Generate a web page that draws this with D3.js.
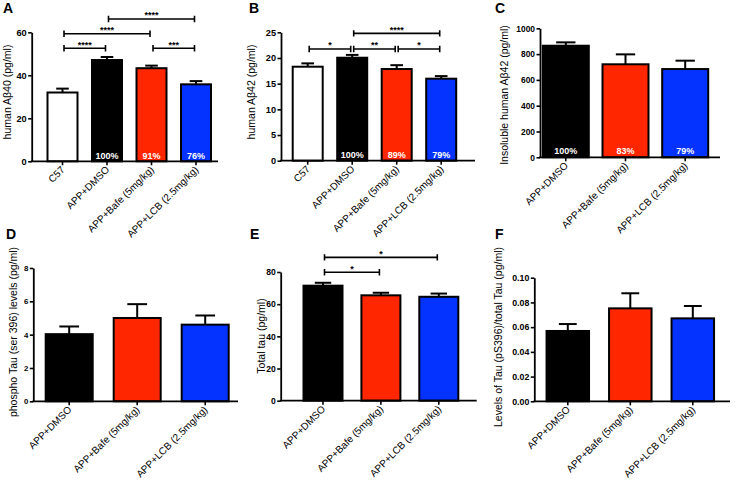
<!DOCTYPE html>
<html><head><meta charset="utf-8">
<script src="https://cdn.jsdelivr.net/npm/d3@7/dist/d3.min.js"></script>
<style>
body{margin:0;background:#fff;}
text{font-family:"Liberation Sans",Arial,sans-serif;}
</style></head>
<body><svg id="c" width="738" height="481"></svg>
<script>
// ---------- data ----------
const groups4 = ["C57", "APP+DMSO", "APP+Bafe (5mg/kg)", "APP+LCB (2.5mg/kg)"];
const groups3 = ["APP+DMSO", "APP+Bafe (5mg/kg)", "APP+LCB (2.5mg/kg)"];
const colors4 = ["#ffffff", "#000000", "#ff2600", "#0433ff"];
const colors3 = ["#000000", "#ff2600", "#0433ff"];

const meansA = [32.0, 47.1, 43.3, 35.8];
const semA   = [1.8, 1.4, 1.2, 1.5];
const pctA   = ["", "100%", "91%", "76%"];
const ticksA = [0, 20, 40, 60];
const sigA   = [
  {a: 0, b: 1, h: 52.6, s: "****"},
  {a: 0, b: 2, h: 59.3, s: "****"},
  {a: 1, b: 3, h: 66.2, s: "****"},
  {a: 2, b: 3, h: 52.6, s: "***"}
];

const meansB = [18.3, 20.05, 17.85, 15.97];
const semB   = [0.65, 0.55, 0.75, 0.5];
const pctB   = ["", "100%", "89%", "79%"];
const ticksB = [0, 5, 10, 15, 20, 25];
const sigB   = [
  {a: 0, b: 1, h: 21.75, s: "*"},
  {a: 1, b: 2, h: 21.75, s: "**"},
  {a: 2, b: 3, h: 21.75, s: "*"},
  {a: 1, b: 3, h: 24.8, s: "****"}
];

const meansC = [865, 721, 684];
const semC   = [26, 77, 65];
const pctC   = ["100%", "83%", "79%"];
const ticksC = [0, 200, 400, 600, 800, 1000];

const meansD = [4.03, 5.0, 4.6];
const semD   = [0.46, 0.83, 0.55];
const ticksD = [0, 2, 4, 6, 8];

const meansE = [71.5, 65.5, 64.6];
const semE   = [1.8, 1.6, 2.0];
const ticksE = [0, 20, 40, 60, 80];
const sigE   = [
  {a: 0, b: 1, h: 79.8, s: "*"},
  {a: 0, b: 2, h: 89.1, s: "*"}
];

const meansF = [0.0569, 0.0752, 0.0671];
const semF   = [0.0056, 0.0122, 0.0100];
const ticksF = [0, 0.02, 0.04, 0.06, 0.08, 0.10];

// ---------- layout ----------
const panels = [
  {letter:"A", lx:3, ly:12.5, cats:groups4, colors:colors4, means:meansA, sem:semA, pct:pctA, ticks:ticksA, fmt:d3.format("d"), sig:sigA,
   title:"human Aβ40 (pg/ml)", tx:11, ty:92, tf:9.2,
   x0:31.7, x1:218, yZero:161.3, yTop:32.3, c0:62.5, step:44.5, bw:30, pctY:158.5},
  {letter:"B", lx:249, ly:12.5, cats:groups4, colors:colors4, means:meansB, sem:semB, pct:pctB, ticks:ticksB, fmt:d3.format("d"), sig:sigB,
   title:"human Aβ42 (pg/ml)", tx:255, ty:92, tf:9.2,
   x0:281, x1:475, yZero:160.7, yTop:32.3, c0:307.7, step:44.5, bw:30, pctY:158},
  {letter:"C", lx:495, ly:13, cats:groups3, colors:colors3, means:meansC, sem:semC, pct:pctC, ticks:ticksC, fmt:d3.format("d"), sig:[],
   title:"Insoluble human Aβ42 (pg/ml)", tx:508, ty:95, tf:8.4,
   x0:540, x1:720, yZero:157.3, yTop:28.3, c0:565.8, step:59.7, bw:46, pctY:154},
  {letter:"D", lx:6, ly:239, cats:groups3, colors:colors3, means:meansD, sem:semD, pct:null, ticks:ticksD, fmt:d3.format("d"), sig:[],
   title:"phospho Tau  (ser 396) levels (pg/ml)", tx:17, ty:332, tf:7.8,
   x0:33.3, x1:238, yZero:401.3, yTop:268, c0:69.2, step:68, bw:47},
  {letter:"E", lx:250, ly:239, cats:groups3, colors:colors3, means:meansE, sem:semE, pct:null, ticks:ticksE, fmt:d3.format("d"), sig:sigE,
   title:"Total tau (pg/ml)", tx:264.5, ty:336, tf:8.6,
   x0:280.7, x1:476.7, yZero:400.7, yTop:272, c0:323, step:57.9, bw:39},
  {letter:"F", lx:495, ly:239, cats:groups3, colors:colors3, means:meansF, sem:semF, pct:null, ticks:ticksF, fmt:d3.format(".2f"), sig:[],
   title:"Levels of Tau (pS396)/total  Tau (pg/ml)", tx:502, ty:337, tf:8.8,
   x0:534.3, x1:730, yZero:401.3, yTop:277.7, c0:567.8, step:62.5, bw:42.5}
];

const svg = d3.select("#c");

panels.forEach(p => {
  const n = p.cats.length;
  const pad = 1 - p.bw / p.step;
  const x = d3.scaleBand().domain(p.cats)
    .range([p.c0 - p.step/2, p.c0 + (n - 0.5) * p.step])
    .paddingInner(pad).paddingOuter(pad/2);
  const ymax = p.ticks[p.ticks.length - 1];
  const y = d3.scaleLinear().domain([0, ymax]).range([p.yZero, p.yTop]);
  const g = svg.append("g");
  const cx = c => x(c) + x.bandwidth()/2;

  // letter
  g.append("text").attr("x", p.lx).attr("y", p.ly).text(p.letter)
    .attr("font-size", 14).attr("font-weight", "bold");

  // y title
  g.append("text").attr("transform", `translate(${p.tx},${p.ty}) rotate(-90)`)
    .attr("text-anchor", "middle").attr("font-size", 10.5).text(p.title);

  // bars
  const data = p.cats.map((c, i) => ({c, m: p.means[i], e: p.sem[i], col: p.colors[i], pct: p.pct ? p.pct[i] : ""}));
  g.selectAll("rect.bar").data(data).join("rect").attr("class", "bar")
    .attr("x", d => x(d.c)).attr("width", x.bandwidth())
    .attr("y", d => y(d.m)).attr("height", d => y(0) - y(d.m))
    .attr("fill", d => d.col).attr("stroke", "#000").attr("stroke-width", 2);

  // error bars
  const capW = x.bandwidth() * 0.42;
  g.selectAll("line.ev").data(data).join("line").attr("class", "ev")
    .attr("x1", d => cx(d.c)).attr("x2", d => cx(d.c))
    .attr("y1", d => y(d.m)).attr("y2", d => y(d.m + d.e))
    .attr("stroke", "#000").attr("stroke-width", 2);
  g.selectAll("line.ec").data(data).join("line").attr("class", "ec")
    .attr("x1", d => cx(d.c) - capW/2).attr("x2", d => cx(d.c) + capW/2)
    .attr("y1", d => y(d.m + d.e)).attr("y2", d => y(d.m + d.e))
    .attr("stroke", "#000").attr("stroke-width", 2);

  // percentages
  if (p.pct) {
    g.selectAll("text.pct").data(data.filter(d => d.pct)).join("text").attr("class", "pct")
      .attr("x", d => cx(d.c)).attr("y", p.pctY)
      .attr("text-anchor", "middle").attr("font-size", 9).attr("font-weight", "bold")
      .attr("fill", "#fff").text(d => d.pct);
  }

  // y axis
  const ya = g.append("g").attr("transform", `translate(${p.x0},0)`)
    .call(d3.axisLeft(y).tickValues(p.ticks).tickFormat(p.fmt).tickSize(3.5).tickSizeOuter(0).tickPadding(1.5));
  ya.select(".domain").attr("stroke-width", 1.8);
  ya.selectAll(".tick line").attr("stroke-width", 1.6);
  ya.selectAll(".tick text").attr("font-size", p.tf).attr("font-weight", "bold")
    .attr("font-family", "Liberation Sans, Arial, sans-serif").attr("fill", "#000");

  // x axis
  const xa = g.append("g").attr("transform", `translate(0,${p.yZero})`)
    .call(d3.axisBottom(x).tickSize(4).tickSizeOuter(0).tickFormat(""));
  xa.select(".domain").remove();
  xa.selectAll(".tick line").attr("stroke-width", 1.6);
  g.append("line").attr("x1", p.x0 - 0.9).attr("x2", p.x1).attr("y1", p.yZero).attr("y2", p.yZero)
    .attr("stroke", "#000").attr("stroke-width", 1.8);
  g.selectAll("text.xl").data(p.cats).join("text").attr("class", "xl")
    .attr("transform", c => `translate(${cx(c) + 3},${p.yZero + 9}) rotate(-45)`)
    .attr("text-anchor", "end").attr("font-size", 10).attr("fill", "#000").text(c => c);

  // significance brackets
  const inset = 1.5, endH = 3.2;
  p.sig.forEach(s => {
    const xa1 = cx(p.cats[s.a]) + inset, xb1 = cx(p.cats[s.b]) - inset, yy = y(s.h);
    const path = d3.path();
    path.moveTo(xa1, yy - endH); path.lineTo(xa1, yy + endH);
    path.moveTo(xa1, yy); path.lineTo(xb1, yy);
    path.moveTo(xb1, yy - endH); path.lineTo(xb1, yy + endH);
    g.append("path").attr("d", path.toString()).attr("stroke", "#000").attr("stroke-width", 1.6).attr("fill", "none");
    g.append("text").attr("x", (xa1 + xb1)/2).attr("y", yy - 0.5)
      .attr("text-anchor", "middle").attr("font-size", 9).attr("font-weight", "bold").attr("fill", "#000").text(s.s);
  });
});
</script></body></html>
